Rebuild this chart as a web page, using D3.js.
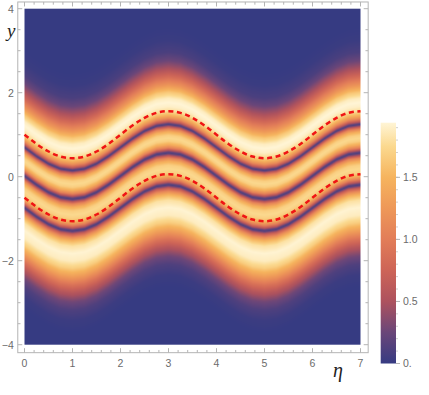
<!DOCTYPE html>
<html><head><meta charset="utf-8">
<script src="https://cdn.jsdelivr.net/npm/d3@7"></script>
<style>html,body{margin:0;padding:0;background:#fff;}svg{display:block;}</style>
</head><body>
<svg id="chart" width="429" height="395"></svg>
<script>
// ---- data ----
const etaGrid = [0,0.25,0.5,0.75,1,1.25,1.5,1.75,2,2.25,2.5,2.75,3,3.25,3.5,3.75,4,4.25,4.5,4.75,5,5.25,5.5,5.75,6,6.25,6.5,6.75,7];
// middle dark (zero) line of the pattern
const centerLine = [0.02,-0.19,-0.37,-0.49,-0.53,-0.49,-0.37,-0.19,0.02,0.23,0.41,0.53,0.57,0.53,0.41,0.23,0.02,-0.19,-0.37,-0.49,-0.53,-0.49,-0.37,-0.19,0.02,0.23,0.41,0.53,0.57];
// red dashed curves
const upperDashed = [1.00,0.78,0.60,0.48,0.44,0.48,0.60,0.78,1.00,1.22,1.40,1.52,1.56,1.52,1.40,1.22,1.00,0.78,0.60,0.48,0.44,0.48,0.60,0.78,1.00,1.22,1.40,1.52,1.56];
const lowerDashed = [-0.50,-0.72,-0.90,-1.02,-1.06,-1.02,-0.90,-0.72,-0.50,-0.28,-0.10,0.02,0.06,0.02,-0.10,-0.28,-0.50,-0.72,-0.90,-1.02,-1.06,-1.02,-0.90,-0.72,-0.50,-0.28,-0.10,0.02,0.06];
// cross-section of the density across the band (offset from the middle zero line)
const profileOffset = [-3.2,-2.9,-2.65,-2.45,-2.25,-2.05,-1.85,-1.65,-1.48,-1.3,-1.12,-1.0,-0.92,-0.84,-0.79,-0.76,-0.73,-0.69,-0.63,-0.55,-0.47,-0.38,-0.29,-0.2,-0.12,-0.07,-0.03,0,
  0.03,0.07,0.12,0.2,0.28,0.35,0.42,0.5,0.57,0.62,0.655,0.68,0.705,0.75,0.82,0.9,1.0,1.1,1.2,1.3,1.45,1.6,1.8,2.0,2.2,2.4,2.7,3.0];
const profileValue = [0,0.03,0.12,0.28,0.55,0.9,1.3,1.68,1.88,1.93,1.8,1.5,1.15,0.68,0.28,0.1,0.28,0.62,1.05,1.45,1.68,1.75,1.68,1.45,1.05,0.62,0.28,0.1,
  0.28,0.62,1.05,1.45,1.68,1.75,1.68,1.45,1.05,0.62,0.28,0.1,0.28,0.68,1.15,1.5,1.78,1.9,1.94,1.88,1.62,1.25,0.85,0.5,0.25,0.1,0.02,0];
const xTicks = [0,1,2,3,4,5,6,7];
const yTicks = [-4,-2,0,2,4];
const barTicks = [0,0.5,1.0,1.5];
const barTickLabels = ["0.","0.5","1.0","1.5"];
const colorStopValues = [0,0.25,0.5,0.75,1.0,1.25,1.5,1.75,1.94];
const colorStopColors = ["#363b82","#6a4679","#ad525e","#cd6457","#e27d58","#ee9858","#f6b45e","#fbd98f","#fff5d6"];

// ---- scales ----
const svg = d3.select("#chart");
const x = d3.scaleLinear().domain([0,7]).range([24.5,360.5]);
const y = d3.scaleLinear().domain([-4,4]).range([344.7,8.7]);
const color = d3.scaleLinear().domain(colorStopValues).range(colorStopColors).clamp(true);
const center = d3.scaleLinear().domain(etaGrid).range(centerLine);
const profile = d3.scaleLinear().domain(profileOffset).range(profileValue).clamp(true);

// ---- density image ----
const W = Math.round(x(7)-x(0)), H = Math.round(y(-4)-y(4));
const cv = document.createElement("canvas"); cv.width=W; cv.height=H;
const ctx = cv.getContext("2d");
const img = ctx.createImageData(W,H);
for(let i=0;i<W;i++){
  const eta = x.invert(x(0)+i+0.5);
  const c = center(eta);
  for(let j=0;j<H;j++){
    const yy = y.invert(y(4)+j+0.5);
    const col = d3.rgb(color(profile(yy-c)));
    const k=(j*W+i)*4;
    img.data[k]=col.r; img.data[k+1]=col.g; img.data[k+2]=col.b; img.data[k+3]=255;
  }
}
ctx.putImageData(img,0,0);
svg.append("image").attr("x",x(0)).attr("y",y(4)).attr("width",W).attr("height",H)
  .attr("preserveAspectRatio","none").attr("href",cv.toDataURL());

// ---- dashed curves ----
const line = d3.line().x((d,i)=>x(etaGrid[i])).y(d=>y(d)).curve(d3.curveNatural);
[upperDashed,lowerDashed].forEach(s=>{
  svg.append("path").attr("d",line(s)).attr("fill","none").attr("stroke","#f01414")
    .attr("stroke-width",2.5).attr("stroke-dasharray","5,3.6");
});

// ---- frame and ticks ----
const fx0 = x(-0.14), fx1 = x(7.16), fy0 = y(4.16), fy1 = y(-4.19);
const gridCol = "#b4b4b4";
svg.append("rect").attr("x",fx0).attr("y",fy0).attr("width",fx1-fx0).attr("height",fy1-fy0)
  .attr("fill","none").attr("stroke",gridCol).attr("stroke-width",1);
const xMinor = d3.range(0,7.0001,0.2).filter(v=>Math.abs(v-Math.round(v))>1e-6);
const yMinor = d3.range(-4,4.0001,0.5).filter(v=>Math.abs(v/2-Math.round(v/2))>1e-6);
const tickG = svg.append("g").attr("stroke",gridCol).attr("stroke-width",1);
xTicks.forEach(v=>{
  tickG.append("line").attr("x1",x(v)).attr("x2",x(v)).attr("y1",fy1).attr("y2",fy1-4.5);
  tickG.append("line").attr("x1",x(v)).attr("x2",x(v)).attr("y1",fy0).attr("y2",fy0+4.5);
});
xMinor.forEach(v=>{
  tickG.append("line").attr("x1",x(v)).attr("x2",x(v)).attr("y1",fy1).attr("y2",fy1-2.7);
  tickG.append("line").attr("x1",x(v)).attr("x2",x(v)).attr("y1",fy0).attr("y2",fy0+2.7);
});
yTicks.forEach(v=>{
  tickG.append("line").attr("y1",y(v)).attr("y2",y(v)).attr("x1",fx0).attr("x2",fx0+4.5);
  tickG.append("line").attr("y1",y(v)).attr("y2",y(v)).attr("x1",fx1).attr("x2",fx1-4.5);
});
yMinor.forEach(v=>{
  tickG.append("line").attr("y1",y(v)).attr("y2",y(v)).attr("x1",fx0).attr("x2",fx0+2.7);
  tickG.append("line").attr("y1",y(v)).attr("y2",y(v)).attr("x1",fx1).attr("x2",fx1-2.7);
});
const lab = {fill:"#6b6b6b","font-family":"'Liberation Sans', Arial, sans-serif","font-size":"10.5px"};
const tl = svg.append("g");
xTicks.forEach(v=>{
  const t=tl.append("text").attr("x",x(v)).attr("y",fy1+14).attr("text-anchor","middle").text(d3.format("d")(v));
  Object.entries(lab).forEach(([k,val])=>t.attr(k,val));
});
yTicks.forEach(v=>{
  const t=tl.append("text").attr("x",fx0-4).attr("y",y(v)+3.8).attr("text-anchor","end").text(d3.format("d")(v).replace("-","\u2212"));
  Object.entries(lab).forEach(([k,val])=>t.attr(k,val));
});
// axis labels
svg.append("text").attr("x",7).attr("y",37).attr("font-family","'Liberation Serif', 'DejaVu Serif', serif")
  .attr("font-style","italic").attr("font-size","19px").attr("fill","#222").text("y");
svg.append("text").attr("x",338).attr("y",377).attr("text-anchor","middle").attr("font-family","'Liberation Serif', 'DejaVu Serif', serif")
  .attr("font-style","italic").attr("font-size","20px").attr("fill","#222").text("η");

// ---- colour bar ----
const cb = d3.scaleLinear().domain([0,1.94]).range([363.5,122.7]);
const defs = svg.append("defs");
const grad = defs.append("linearGradient").attr("id","cbar").attr("x1",0).attr("x2",0).attr("y1",1).attr("y2",0);
colorStopValues.forEach((v,i)=>grad.append("stop").attr("offset",v/1.94).attr("stop-color",colorStopColors[i]));
svg.append("rect").attr("x",380.7).attr("y",cb(1.94)).attr("width",15.3).attr("height",cb(0)-cb(1.94)).attr("fill","url(#cbar)");
const cbMinor = d3.range(0,1.9001,0.1);
cbMinor.forEach(v=>{
  svg.append("line").attr("x1",396).attr("x2",398).attr("y1",cb(v)).attr("y2",cb(v)).attr("stroke","#d0d0d0");
});
barTicks.forEach((v,i)=>{
  svg.append("line").attr("x1",396).attr("x2",400).attr("y1",cb(v)).attr("y2",cb(v)).attr("stroke",gridCol);
  const t=svg.append("text").attr("x",403).attr("y",cb(v)+3.8).text(barTickLabels[i]);
  Object.entries(lab).forEach(([k,val])=>t.attr(k,val));
});
</script>
</body></html>
